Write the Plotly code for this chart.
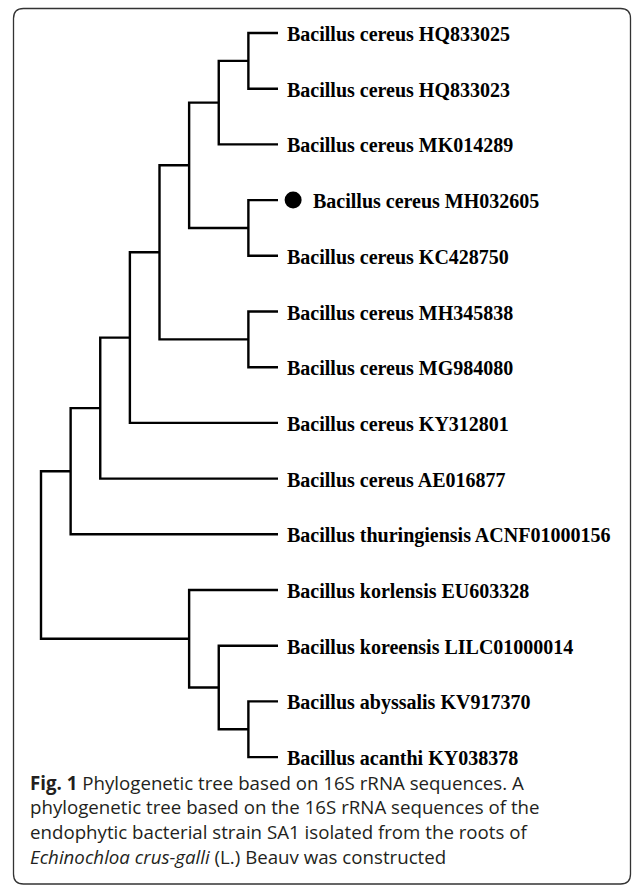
import plotly.graph_objects as go

# ---- data ----
leaf_labels = [
    "Bacillus cereus HQ833025",
    "Bacillus cereus HQ833023",
    "Bacillus cereus MK014289",
    "Bacillus cereus MH032605",
    "Bacillus cereus KC428750",
    "Bacillus cereus MH345838",
    "Bacillus cereus MG984080",
    "Bacillus cereus KY312801",
    "Bacillus cereus AE016877",
    "Bacillus thuringiensis ACNF01000156",
    "Bacillus korlensis EU603328",
    "Bacillus koreensis LILC01000014",
    "Bacillus abyssalis KV917370",
    "Bacillus acanthi KY038378",
]
leaf_depth = 8
highlight_leaf = "Bacillus cereus MH032605"

# internal nodes: id, children (leaf index "L#" or node id), depth (cladogram level)
node_ids = ["n1", "n2", "n3", "n4", "n5", "n6", "n7", "n8", "n9",
            "n10", "n11", "n12", "root"]
node_children = [
    ("L0", "L1"),
    ("n1", "L2"),
    ("L3", "L4"),
    ("n2", "n3"),
    ("L5", "L6"),
    ("n4", "n5"),
    ("n6", "L7"),
    ("n7", "L8"),
    ("n8", "L9"),
    ("L12", "L13"),
    ("L11", "n10"),
    ("L10", "n11"),
    ("n9", "n12"),
]
node_depth = [7, 6, 7, 5, 7, 4, 3, 2, 1, 7, 6, 5, 0]

caption_lines = [
    "<b>Fig. 1</b> Phylogenetic tree based on 16S rRNA sequences. A",
    "phylogenetic tree based on the 16S rRNA sequences of the",
    "endophytic bacterial strain SA1 isolated from the roots of",
    "<i>Echinochloa crus-galli</i> (L.) Beauv was constructed",
]

# ---- layout geometry ----
W, H = 633, 885
px_x0, px_per_x = 41.0, 29.625      # depth 0 at px 41
px_y0, px_per_y = 33.0, 55.7        # leaf 0 at px 33

# positions
pos = {}
for i, _ in enumerate(leaf_labels):
    pos["L%d" % i] = (leaf_depth, i)
for nid, ch, d in zip(node_ids, node_children, node_depth):
    ys = [pos[c][1] for c in ch]
    pos[nid] = (d, (min(ys) + max(ys)) / 2)

xs, ys = [], []
for nid, ch in zip(node_ids, node_children):
    nx, _ = pos[nid]
    (x1, y1), (x2, y2) = pos[ch[0]], pos[ch[1]]
    xs += [x1, nx, nx, x2, None]
    ys += [y1, y1, y2, y2, None]

fig = go.Figure()
fig.add_trace(go.Scatter(x=xs, y=ys, mode="lines",
                         line=dict(color="#000000", width=2.4),
                         hoverinfo="skip", showlegend=False))

hi = leaf_labels.index(highlight_leaf)
fig.add_trace(go.Scatter(x=[leaf_depth + 0.51], y=[hi], mode="markers",
                         marker=dict(color="#000000", size=17),
                         hoverinfo="skip", showlegend=False))

for i, lab in enumerate(leaf_labels):
    fig.add_annotation(x=leaf_depth, y=i, text="<b>%s</b>" % lab,
                       xanchor="left", yanchor="middle", showarrow=False,
                       xshift=7 + (26 if i == hi else 0), yshift=-1,
                       font=dict(family="Liberation Serif", size=20,
                                 color="#000000"))

cap_y0, cap_dy = 782.0, 24.7
for k, line in enumerate(caption_lines):
    fig.add_annotation(x=28 / W, y=1 - (cap_y0 + k * cap_dy) / H,
                       xref="paper", yref="paper",
                       text=line, xanchor="left", yanchor="middle",
                       align="left", showarrow=False,
                       font=dict(family="Open Sans", size=18.7,
                                 color="#231f20"))

# rounded border
def px(xp, yp):
    return "%.5f %.5f" % (xp / W, 1 - yp / H)

l, t, r, b, rad = 13.5, 8.5, 630.5, 884.0, 10.0
path = ("M " + px(l, t + rad) +
        " Q " + px(l, t) + " " + px(l + rad, t) +
        " L " + px(r - rad, t) +
        " Q " + px(r, t) + " " + px(r, t + rad) +
        " L " + px(r, b - rad) +
        " Q " + px(r, b) + " " + px(r - rad, b) +
        " L " + px(l + rad, b) +
        " Q " + px(l, b) + " " + px(l, b - rad) + " Z")
fig.add_shape(type="path", path=path, xref="paper", yref="paper",
              line=dict(color="#333333", width=1.3))

fig.update_xaxes(range=[-px_x0 / px_per_x, (W - px_x0) / px_per_x],
                 visible=False, fixedrange=True)
fig.update_yaxes(range=[(H - px_y0) / px_per_y, -px_y0 / px_per_y],
                 visible=False, fixedrange=True)
fig.update_layout(width=W, height=H, margin=dict(l=0, r=0, t=0, b=0),
                  paper_bgcolor="white", plot_bgcolor="white")

fig.write_html("out.html", config={"displayModeBar": False},
               post_script="document.body.style.margin='0';"
                           "document.body.style.overflow='hidden';")
